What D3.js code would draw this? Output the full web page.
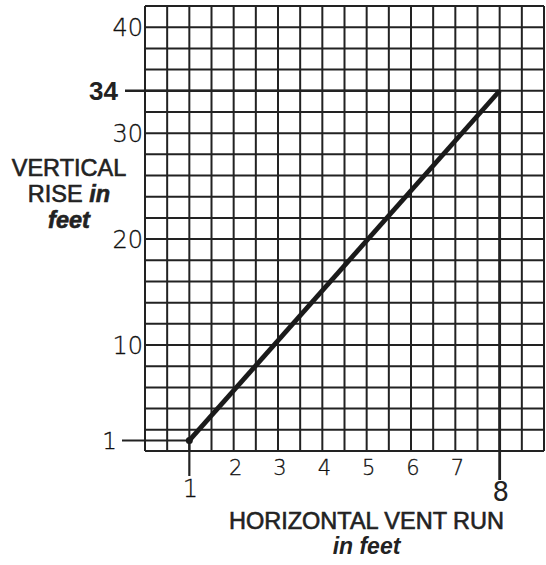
<!DOCTYPE html>
<html><head><meta charset="utf-8">
<script src="https://cdn.jsdelivr.net/npm/d3@7"></script>
<style>body{margin:0;background:#fff}svg{display:block}</style>
</head><body>
<script>
// ---- data ----
const runPoints = [1, 8];          // horizontal vent run (feet)
const risePoints = [1, 34];        // vertical rise (feet)
const xTickLabels = [2, 3, 4, 5, 6, 7];
const yTickLabels = [10, 20, 30, 40];
const xDomain = [0, 9];
const yDomain = [0, 42];
const xGridStep = 0.5;
const yGridStep = 2;

const W = 546, H = 565;
const svg = d3.select("body").append("svg").attr("width", W).attr("height", H);
const x = d3.scaleLinear().domain(xDomain).range([145, 544]);
const y = d3.scaleLinear().domain(yDomain).range([451, 6]);
const ink = "#222";
const digitFont = "'DejaVu Sans', sans-serif";

// grid
const xs = d3.range(xDomain[0], xDomain[1] + 1e-9, xGridStep);
const ys = d3.range(yDomain[0], yDomain[1] + 1e-9, yGridStep);
const g = svg.append("g").attr("stroke", ink).attr("stroke-width", 2);
g.selectAll("line.v").data(xs).join("line").attr("class", "v")
  .attr("x1", d => x(d)).attr("x2", d => x(d)).attr("y1", y(yDomain[0])).attr("y2", y(yDomain[1]));
g.selectAll("line.h").data(ys).join("line").attr("class", "h")
  .attr("y1", d => y(d)).attr("y2", d => y(d)).attr("x1", x(xDomain[0])).attr("x2", x(xDomain[1]));

// y tick labels (light)
svg.selectAll("text.yt").data(yTickLabels).join("text").attr("class", "yt")
  .attr("x", x(0) - 2).attr("y", d => y(d) + 8.6)
  .attr("text-anchor", "end").attr("font-family", digitFont).attr("font-weight", 200)
  .attr("font-size", 24).attr("fill", "#111").attr("stroke", "#111").attr("stroke-width", 0.3).text(d => d);

// x tick labels
svg.selectAll("text.xt").data(xTickLabels).join("text").attr("class", "xt")
  .attr("x", d => x(d) + 2).attr("y", 475)
  .attr("text-anchor", "middle").attr("font-family", digitFont).attr("font-weight", 200)
  .attr("font-size", 21).attr("fill", "#111").attr("stroke", "#111").attr("stroke-width", 0.3).text(d => d);

// reference lines for the endpoints
svg.append("line").attr("x1", 122).attr("x2", x(runPoints[0]))
  .attr("y1", y(risePoints[0])).attr("y2", y(risePoints[0]))
  .attr("stroke", ink).attr("stroke-width", 2);
svg.append("line").attr("x1", 125).attr("x2", x(runPoints[1]))
  .attr("y1", y(risePoints[1])).attr("y2", y(risePoints[1]))
  .attr("stroke", ink).attr("stroke-width", 2.6);
svg.append("line").attr("x1", x(runPoints[0])).attr("x2", x(runPoints[0]))
  .attr("y1", y(risePoints[0])).attr("y2", 476)
  .attr("stroke", ink).attr("stroke-width", 2.2);
svg.append("line").attr("x1", x(runPoints[1])).attr("x2", x(runPoints[1]))
  .attr("y1", y(risePoints[1])).attr("y2", 480)
  .attr("stroke", ink).attr("stroke-width", 2.8);

// endpoint labels
svg.append("text").attr("x", 118).attr("y", y(risePoints[1]) + 9)
  .attr("text-anchor", "end").attr("font-family", "'Liberation Sans', Arial, sans-serif")
  .attr("font-weight", "bold").attr("font-size", 26).attr("fill", ink).text(risePoints[1]);
svg.append("text").attr("x", 117).attr("y", y(risePoints[0]) + 8.5)
  .attr("text-anchor", "end").attr("font-family", digitFont).attr("font-weight", 200)
  .attr("font-size", 23).attr("fill", "#111").attr("stroke", "#111").attr("stroke-width", 0.3).text(risePoints[0]);
svg.append("text").attr("x", x(runPoints[0]) + 1).attr("y", 497)
  .attr("text-anchor", "middle").attr("font-family", digitFont).attr("font-weight", 200)
  .attr("font-size", 24).attr("fill", "#111").attr("stroke", "#111").attr("stroke-width", 0.3).text(runPoints[0]);
svg.append("text").attr("x", x(runPoints[1]) + 1).attr("y", 501)
  .attr("text-anchor", "middle").attr("font-family", digitFont)
  .attr("font-size", 26).attr("fill", ink).text(runPoints[1]);

// main line
const pts = runPoints.map((r, i) => [r, risePoints[i]]);
svg.append("path").datum(pts)
  .attr("d", d3.line().x(d => x(d[0])).y(d => y(d[1])))
  .attr("fill", "none").attr("stroke", "#1a1a1a").attr("stroke-width", 4.8).attr("stroke-linecap", "butt");
svg.append("circle").attr("cx", x(runPoints[0])).attr("cy", y(risePoints[0])).attr("r", 3.5).attr("fill", "#1a1a1a");

// axis titles
const tf = "'Liberation Sans', Arial, sans-serif";
const yt = svg.append("text").attr("font-family", tf).attr("font-size", 23.5).attr("fill", ink)
  .attr("text-anchor", "middle").attr("stroke", ink).attr("stroke-width", 0.6);
yt.append("tspan").attr("x", 69).attr("y", 176).text("VERTICAL");
const l2 = yt.append("tspan").attr("x", 69).attr("y", 202);
l2.append("tspan").text("RISE ");
l2.append("tspan").attr("font-weight", "bold").attr("font-style", "italic").text("in");
yt.append("tspan").attr("x", 69).attr("y", 228).attr("font-weight", "bold").attr("font-style", "italic").text("feet");

svg.append("text").attr("font-family", tf).attr("font-size", 23.5).attr("fill", ink)
  .attr("text-anchor", "middle").attr("stroke", ink).attr("stroke-width", 0.6)
  .attr("x", 366.5).attr("y", 529).text("HORIZONTAL VENT RUN");
svg.append("text").attr("font-family", tf).attr("font-size", 23).attr("fill", ink)
  .attr("text-anchor", "middle").attr("font-weight", "bold").attr("font-style", "italic")
  .attr("x", 366.5).attr("y", 554).text("in feet");
</script>
</body></html>
